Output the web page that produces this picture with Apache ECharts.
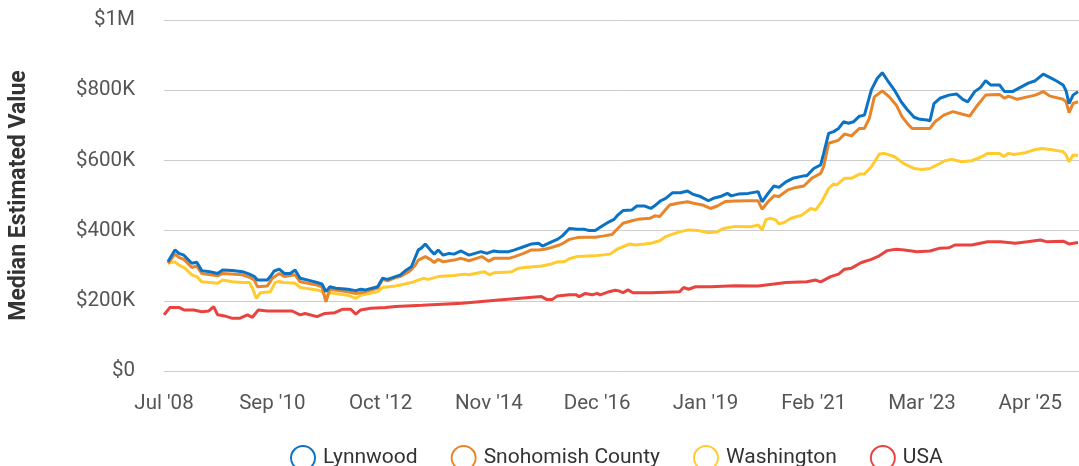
<!DOCTYPE html>
<html>
<head>
<meta charset="utf-8">
<script src="https://cdn.jsdelivr.net/npm/echarts@6/dist/echarts.min.js"></script>
<style>
  html, body { margin: 0; padding: 0; background: #fff; }
  #chart { width: 1079px; height: 466px; }
</style>
</head>
<body>
<div id="chart"></div>
<script>
// x values are weeks since late Jul 2008; y values in $K
const tickLabels = ["Jul '08", "Sep '10", "Oct '12", "Nov '14", "Dec '16", "Jan '19", "Feb '21", "Mar '23", "Apr '25"];
const seriesNames = ["Lynnwood", "Snohomish County", "Washington", "USA"];

const lynnwood = [[4,311],[11,345],[15,335],[20,330],[23,321],[28,307],[33,310],[38,286],[46,283],[54,278],[59,288],[69,286],[79,283],[86,276],[91,269],[94,259],[104,259],[107,269],[111,285],[116,290],[121,278],[127,278],[132,288],[137,264],[145,259],[154,252],[159,248],[163,226],[167,240],[173,236],[185,233],[193,229],[198,233],[203,231],[215,240],[220,264],[225,261],[233,269],[238,274],[244,288],[249,297],[256,345],[259,350],[263,362],[268,345],[272,333],[276,345],[281,330],[287,335],[292,333],[299,342],[307,330],[319,340],[325,335],[332,342],[337,340],[347,340],[353,345],[362,354],[370,362],[377,364],[381,356],[390,368],[396,375],[401,385],[408,406],[416,404],[423,404],[428,400],[434,400],[441,413],[448,425],[453,432],[457,445],[462,457],[471,459],[476,470],[484,470],[490,463],[495,473],[500,485],[505,492],[512,508],[520,508],[527,513],[532,504],[540,497],[548,485],[553,492],[560,497],[567,506],[571,499],[578,504],[588,506],[598,511],[602,482],[608,506],[614,527],[619,523],[626,539],[633,549],[644,556],[647,556],[654,577],[661,587],[664,620],[669,677],[674,682],[679,691],[684,710],[689,706],[694,710],[700,726],[705,729],[712,801],[718,834],[723,850],[728,829],[735,801],[742,767],[748,745],[755,723],[761,717],[768,715],[771,713],[775,762],[781,777],[790,786],[798,789],[804,774],[809,767],[816,796],[822,808],[827,827],[832,815],[841,815],[846,796],[854,796],[862,808],[870,820],[877,827],[885,846],[892,836],[898,827],[905,815],[908,798],[911,762],[915,786],[920,796]];

const snohomish = [[4,307],[11,333],[15,324],[20,318],[28,295],[33,299],[38,278],[54,271],[59,278],[79,274],[86,267],[91,259],[94,240],[104,242],[109,264],[116,278],[121,269],[132,274],[137,254],[154,245],[159,240],[163,197],[167,233],[185,226],[193,221],[203,226],[215,236],[220,261],[225,257],[233,266],[238,269],[248,286],[253,302],[256,316],[263,326],[268,318],[272,309],[276,318],[281,311],[292,316],[299,321],[307,314],[320,326],[327,313],[332,321],[347,321],[353,326],[362,335],[370,345],[377,345],[383,347],[390,352],[398,359],[403,366],[408,375],[416,380],[423,381],[434,381],[443,385],[451,389],[456,404],[462,421],[471,428],[477,432],[489,435],[494,442],[499,440],[504,457],[509,473],[517,478],[527,482],[533,478],[542,473],[550,463],[557,470],[565,483],[575,484],[588,485],[598,485],[602,461],[608,482],[614,499],[619,497],[628,516],[636,523],[644,527],[652,549],[661,563],[664,582],[669,649],[674,653],[679,658],[685,675],[692,670],[700,691],[705,691],[710,720],[715,781],[723,798],[730,781],[737,758],[743,724],[748,706],[753,691],[761,691],[771,691],[776,710],[785,729],[794,739],[803,732],[811,726],[819,758],[827,786],[841,788],[846,777],[850,783],[859,774],[869,781],[877,786],[885,796],[892,783],[905,774],[908,767],[911,736],[915,762],[920,767]];

const washington = [[4,307],[11,311],[15,302],[21,293],[28,274],[33,269],[38,254],[54,250],[59,259],[69,254],[79,252],[86,252],[89,236],[93,207],[97,223],[107,226],[112,252],[116,255],[121,252],[132,250],[137,238],[154,231],[159,226],[163,212],[167,223],[185,216],[193,207],[198,216],[215,226],[220,238],[233,242],[238,245],[249,252],[256,259],[261,264],[266,261],[276,269],[292,272],[302,276],[307,274],[322,283],[328,274],[332,280],[347,282],[350,283],[357,293],[363,295],[380,299],[390,305],[396,311],[403,311],[408,320],[416,326],[433,328],[449,333],[456,347],[462,354],[469,362],[474,359],[484,362],[490,364],[499,371],[505,383],[512,390],[520,397],[528,402],[538,400],[548,394],[557,397],[563,406],[575,412],[591,411],[598,416],[602,402],[606,432],[611,435],[616,430],[619,419],[624,423],[631,435],[642,444],[651,463],[656,459],[662,482],[669,520],[674,533],[677,530],[685,549],[692,549],[700,561],[705,561],[712,582],[720,618],[725,620],[735,611],[745,590],[755,577],[763,574],[771,577],[778,587],[786,599],[793,603],[803,596],[813,599],[822,609],[829,620],[841,620],[845,611],[850,620],[855,617],[867,622],[877,631],[884,634],[892,631],[905,625],[908,615],[911,596],[915,615],[920,615]];

const usa = [[0,160],[6,181],[15,181],[20,174],[30,174],[38,169],[45,171],[50,183],[54,160],[61,157],[69,150],[76,150],[84,160],[89,153],[95,174],[104,171],[116,171],[129,171],[137,160],[142,164],[154,155],[162,164],[172,166],[180,176],[188,176],[193,162],[198,174],[208,179],[223,181],[233,184],[260,187],[300,193],[337,202],[380,212],[385,204],[391,204],[396,214],[408,217],[415,217],[418,212],[424,221],[431,217],[436,221],[439,217],[448,226],[454,230],[457,229],[462,223],[467,231],[472,223],[490,223],[519,226],[523,238],[528,233],[535,240],[550,240],[575,243],[598,242],[614,248],[626,252],[647,254],[656,259],[661,254],[671,269],[679,276],[685,290],[692,293],[702,309],[712,318],[720,328],[728,343],[737,347],[745,345],[758,340],[771,342],[781,350],[790,351],[796,359],[803,359],[813,359],[829,368],[842,368],[857,364],[869,368],[882,373],[889,368],[905,370],[911,362],[920,366]];

const colors = ["#0b72c4", "#e8852b", "#ffcb2f", "#e9433f"];
const dataSets = [lynnwood, snohomish, washington, usa];
const WEEK_STEP = 109;

const chart = echarts.init(document.getElementById('chart'), null, { renderer: 'canvas' });
const font = 'Roboto, "Noto Sans", sans-serif';

chart.setOption({
  animation: false,
  backgroundColor: '#fff',
  color: colors,
  textStyle: { fontFamily: font },
  grid: { left: 152, right: 0, top: 20, bottom: 95, containLabel: false },
  legend: {
    data: seriesNames,
    icon: 'emptyCircle',
    itemWidth: 30,
    itemHeight: 24,
    itemGap: 33,
    top: 440,
    left: 285,
    itemStyle: { borderWidth: 2 },
    textStyle: { fontSize: 21, color: '#333', fontFamily: font }
  },
  xAxis: {
    type: 'value',
    min: 0,
    max: 921,
    interval: WEEK_STEP,
    axisLine: { show: false },
    axisTick: { show: false },
    splitLine: { show: false },
    axisLabel: {
      margin: 22,
      fontSize: 20.5,
      color: '#555',
      fontFamily: font,
      showMaxLabel: false,
      formatter: function (v) {
        const i = v / WEEK_STEP;
        return Number.isInteger(i) && tickLabels[i] ? tickLabels[i] : '';
      }
    }
  },
  yAxis: {
    type: 'value',
    min: 0,
    max: 1000,
    interval: 200,
    name: 'Median Estimated Value',
    nameLocation: 'middle',
    nameGap: 133,
    nameTextStyle: { fontSize: 23, fontWeight: 'bold', color: '#333', fontFamily: font },
    axisLine: { show: false },
    axisTick: { show: false },
    splitLine: { lineStyle: { color: '#cccccc', width: 1 } },
    axisLabel: {
      margin: 29,
      fontSize: 20.5,
      color: '#555',
      fontFamily: font,
      formatter: function (v) {
        if (v === 0) return '$0';
        if (v >= 1000) return '$' + (v / 1000) + 'M';
        return '$' + v + 'K';
      }
    }
  },
  series: seriesNames.map(function (name, i) {
    return {
      name: name,
      type: 'line',
      data: dataSets[i],
      showSymbol: false,
      symbol: 'circle',
      z: 10 - i,
      lineStyle: { width: 3, color: colors[i] },
      itemStyle: { color: colors[i] }
    };
  })
});
</script>
</body>
</html>
